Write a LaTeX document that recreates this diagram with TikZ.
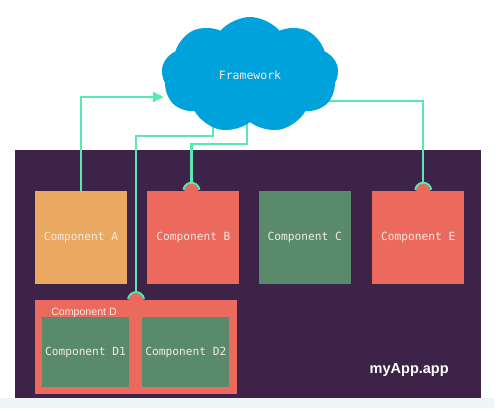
\documentclass[tikz,border=0pt]{standalone}
\usepackage{fontspec}
\setmainfont{Liberation Sans}
\setmonofont{DejaVu Sans Mono}
\usepackage{tikz}
\usetikzlibrary{arrows.meta,positioning,shapes.symbols}
\definecolor{appplum}{RGB}{62,35,73}
\definecolor{compamber}{RGB}{233,169,97}
\definecolor{compcoral}{RGB}{236,105,94}
\definecolor{compsage}{RGB}{90,138,108}
\definecolor{fwblue}{RGB}{0,162,219}
\definecolor{wiremint}{RGB}{92,230,176}
\definecolor{labelcream}{RGB}{243,235,222}
\definecolor{shadowmist}{RGB}{239,244,247}
\pgfdeclarelayer{front}
\pgfsetlayers{main,front}
\newcommand{\socket}[2]{%
  \fill[#2] (#1) circle[radius=7pt];
  \draw[socketarc] ([shift={(8pt,1pt)}]#1) arc[start angle=7,end angle=173,radius=8pt];}

\begin{document}
\begin{tikzpicture}[x=1pt,y=-1pt,
  node distance=16pt and 20pt,
  comp/.style={minimum width=92pt,minimum height=93pt,inner sep=0pt,text=labelcream,font=\ttfamily\fontsize{11.2}{13}\selectfont},
  sub/.style={comp,fill=compsage,minimum width=87pt,minimum height=70pt},
  wire/.style={wiremint,line width=2.2pt},
  socketarc/.style={wiremint,line width=2pt}
]
\useasboundingbox[fill=white] (0,0) rectangle (504,411);
\fill[shadowmist] (0,398) rectangle (494,408);
\node[fill=appplum,minimum width=466pt,minimum height=248pt,inner sep=0pt] (app) at (248,274) {};
\node[comp,fill=compamber] (compA) at (81,237.5) {Component A};
\node[comp,fill=compcoral,right=of compA] (compB) {Component B};
\node[comp,fill=compsage,right=19pt of compB] (compC) {Component C};
\node[comp,fill=compcoral,right=21pt of compC] (compE) {Component E};
\node[fill=compcoral,minimum width=202pt,minimum height=94pt,inner sep=0pt,below=16pt of compA.south west,anchor=north west] (compD) {};
\node[sub,below right=17pt and 7pt of compD.north west] (compD1) {Component D1};
\node[sub,right=13pt of compD1] (compD2) {Component D2};
\node[anchor=base west,text=labelcream,font=\fontsize{10.6}{12}\selectfont] (labD) at ([shift={(13pt,-15.5pt)}]compD.north west) {Component D};
\node[anchor=base east,text=white,font=\bfseries\fontsize{14.5}{16}\selectfont] (appname) at ([shift={(-29pt,25pt)}]app.south east) {myApp.app};
% framework cloud sits above the wires
\begin{pgfonlayer}{front}
\node[cloud,cloud puffs=9,cloud puff arc=100,aspect=1.5,shape border rotate=10,fill=fwblue,minimum width=177pt,minimum height=116pt,inner sep=0pt,text=labelcream,font=\ttfamily\fontsize{11.5}{13}\selectfont] (fw) at (250,75) {Framework};
\end{pgfonlayer}
\coordinate (sockB) at ([xshift=-2pt]compB.north);
\coordinate (sockD) at (compD.north);
\coordinate (sockE) at ([xshift=5pt]compE.north);
\socket{sockB}{compcoral}
\socket{sockD}{compcoral}
\socket{sockE}{compcoral}
\draw[wire,-{Triangle[length=11pt,width=10pt]}] (compA.north) |- ([shift={(2pt,-22pt)}]fw.west);
\draw[wire] ([xshift=-37pt]fw.center) -- ++(0,61) -| ([yshift=8pt]sockD);
\draw[wire] ([xshift=-3pt]fw.center) -- ++(0,69) -| ([yshift=8pt]sockB);
\draw[wire] ([shift={(-12pt,-26pt)}]fw.east) -| ([yshift=8pt]sockE);
\end{tikzpicture}
\end{document}
